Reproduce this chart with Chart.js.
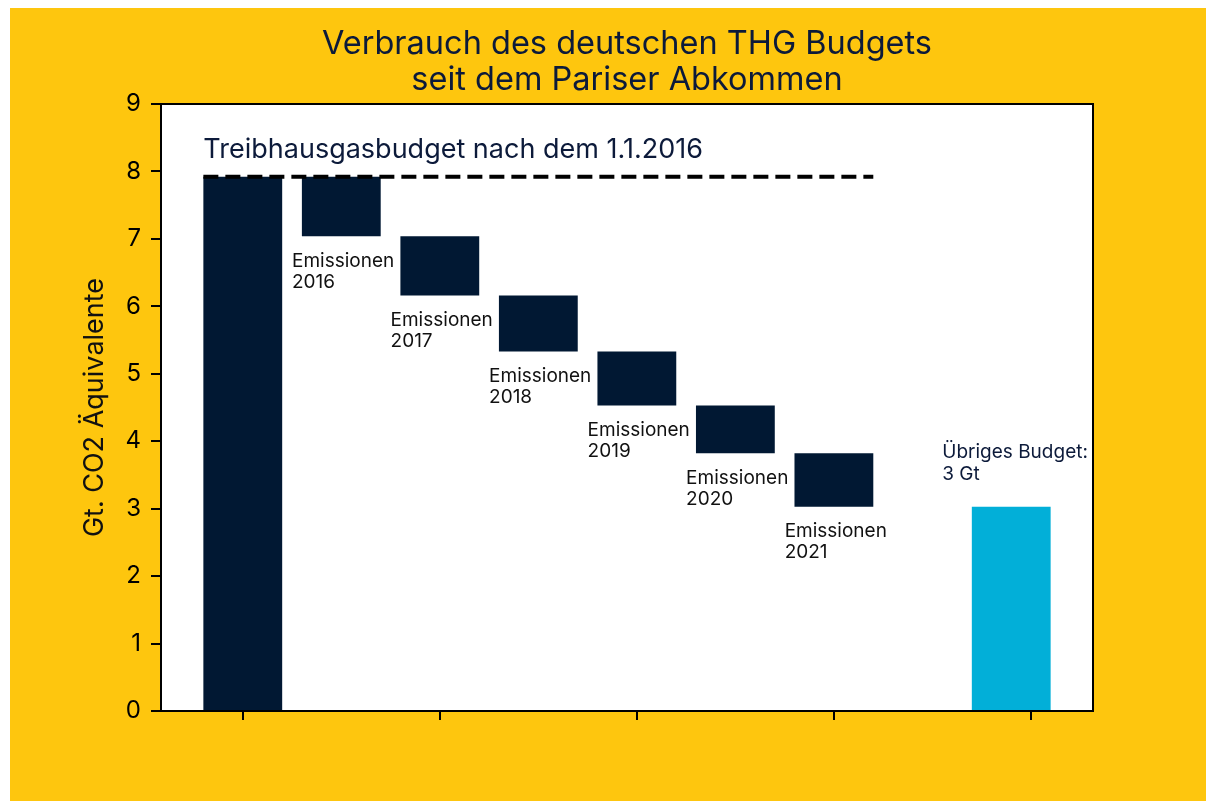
<!DOCTYPE html>
<html>
<head>
<meta charset="utf-8">
<script src="https://cdn.jsdelivr.net/npm/chart.js@4/dist/chart.umd.min.js"></script>
<style>
  html, body { margin: 0; padding: 0; background: #fff; }
  #wrap { position: absolute; left: 10px; top: 8px; width: 1196px; height: 793px; background: #fec60e; }
</style>
</head>
<body>
<div id="wrap"><canvas id="chart" width="1196" height="793"></canvas></div>
<script>
// budget left (Gt CO2e) at start and after each year
var years = ["2016", "2017", "2018", "2019", "2020", "2021"];
var levels = [7.92, 7.04, 6.16, 5.33, 4.53, 3.82, 3.03];
var remaining = 3.03;
var positions = [0, 1, 2, 3, 4, 5, 6, 7.8];
var xTicks = [0, 2, 4, 6, 8];
var budgetValue = 7.92;
var lineFrom = -0.4, lineTo = 6.4;

var titleLines = ["Verbrauch des deutschen THG Budgets", "seit dem Pariser Abkommen"];
var budgetText = "Treibhausgasbudget nach dem 1.1.2016";
var restLines = ["Übriges Budget:", "3 Gt"];

var FONT = "Inter";
var navy = "#0c1a3a";
var dark = "#011833";
var cyan = "#02afd8";

// build the floating bars of the waterfall
var barData = [{ x: positions[0], y: [0, levels[0]] }];
for (let i = 1; i < levels.length; i++) {
    barData.push({ x: positions[i], y: [levels[i], levels[i - 1]] });
}
barData.push({ x: positions[7], y: [0, remaining] });
var barColors = barData.map(function (d, i) { return i === barData.length - 1 ? cyan : dark; });

var decor = {
    id: "decor",
    beforeDraw: function (chart) {
        var a = chart.chartArea, ctx = chart.ctx;
        ctx.save();
        ctx.fillStyle = "#fff";
        ctx.fillRect(a.left, a.top, a.right - a.left, a.bottom - a.top);
        ctx.restore();
    },
    afterDatasetsDraw: function (chart) {
        var ctx = chart.ctx, xs = chart.scales.x, ys = chart.scales.y;
        ctx.save();
        ctx.textAlign = "left";
        // budget label over the dashed line
        ctx.font = "27px " + FONT;
        ctx.fillStyle = navy;
        ctx.textBaseline = "alphabetic";
        ctx.fillText(budgetText, xs.getPixelForValue(lineFrom), ys.getPixelForValue(8.2));
        // yearly emission labels
        ctx.font = "19px " + FONT;
        ctx.fillStyle = "#111";
        ctx.textBaseline = "top";
        for (let i = 0; i < years.length; i++) {
            var px = xs.getPixelForValue(positions[i + 1] - 0.5);
            var py = ys.getPixelForValue(levels[i + 1] - 0.23);
            ctx.fillText("Emissionen", px, py);
            ctx.fillText(years[i], px, py + 21);
        }
        // remaining budget label
        ctx.fillStyle = navy;
        ctx.textBaseline = "alphabetic";
        var rx = xs.getPixelForValue(positions[7] - 0.7);
        var ry = ys.getPixelForValue(remaining + 0.4);
        ctx.fillText(restLines[0], rx, ry - 22);
        ctx.fillText(restLines[1], rx, ry);
        ctx.restore();
    },
    afterDraw: function (chart) {
        var a = chart.chartArea, ctx = chart.ctx;
        ctx.save();
        ctx.strokeStyle = "#000";
        ctx.lineWidth = 2;
        ctx.beginPath();
        ctx.moveTo(a.left, a.top);
        ctx.lineTo(a.right, a.top);
        ctx.lineTo(a.right, a.bottom);
        ctx.stroke();
        // title
        ctx.font = "32.5px " + FONT;
        ctx.fillStyle = navy;
        ctx.textAlign = "center";
        ctx.textBaseline = "middle";
        var cx = (a.left + a.right) / 2;
        ctx.fillText(titleLines[0], cx, a.top - 60);
        ctx.fillText(titleLines[1], cx, a.top - 24);
        ctx.restore();
    }
};

var ctx = document.getElementById("chart");
var chart = new Chart(ctx, {
    type: "bar",
    data: {
        datasets: [
            {
                type: "line",
                label: "Budget",
                data: [{ x: lineFrom, y: budgetValue }, { x: lineTo, y: budgetValue }],
                borderColor: "#000",
                borderWidth: 4,
                borderDash: [15, 7],
                pointRadius: 0,
                fill: false,
                order: 0
            },
            {
                label: "THG",
                data: barData,
                backgroundColor: barColors,
                borderWidth: 0,
                barPercentage: 1,
                categoryPercentage: 0.8,
                order: 1
            }
        ]
    },
    options: {
        responsive: false,
        animation: false,
        layout: { padding: { top: 96, right: 113, bottom: 0, left: 0 } },
        plugins: {
            legend: { display: false },
            tooltip: { enabled: false },
            title: { display: false }
        },
        scales: {
            x: {
                type: "linear",
                min: -0.83,
                max: 8.63,
                offset: false,
                afterBuildTicks: function (scale) {
                    scale.ticks = xTicks.map(function (v) { return { value: v }; });
                },
                afterFit: function (scale) { scale.height = 90; },
                ticks: { display: false },
                grid: { offset: false, drawOnChartArea: false, drawTicks: true, tickLength: 9, color: "#000", lineWidth: 2 },
                border: { display: true, color: "#000", width: 2 }
            },
            y: {
                min: 0,
                max: 9,
                afterFit: function (scale) { scale.width = 151; },
                ticks: { stepSize: 1, color: "#000", padding: 10, font: { family: FONT, size: 24 } },
                grid: { drawOnChartArea: false, drawTicks: true, tickLength: 10, color: "#000", lineWidth: 2 },
                border: { display: true, color: "#000", width: 2 },
                title: {
                    display: true,
                    text: "Gt. CO2 Äquivalente",
                    color: "#111",
                    font: { family: FONT, size: 27 },
                    padding: { top: 69, bottom: 0 }
                }
            }
        }
    },
    plugins: [decor]
});
</script>
</body>
</html>
